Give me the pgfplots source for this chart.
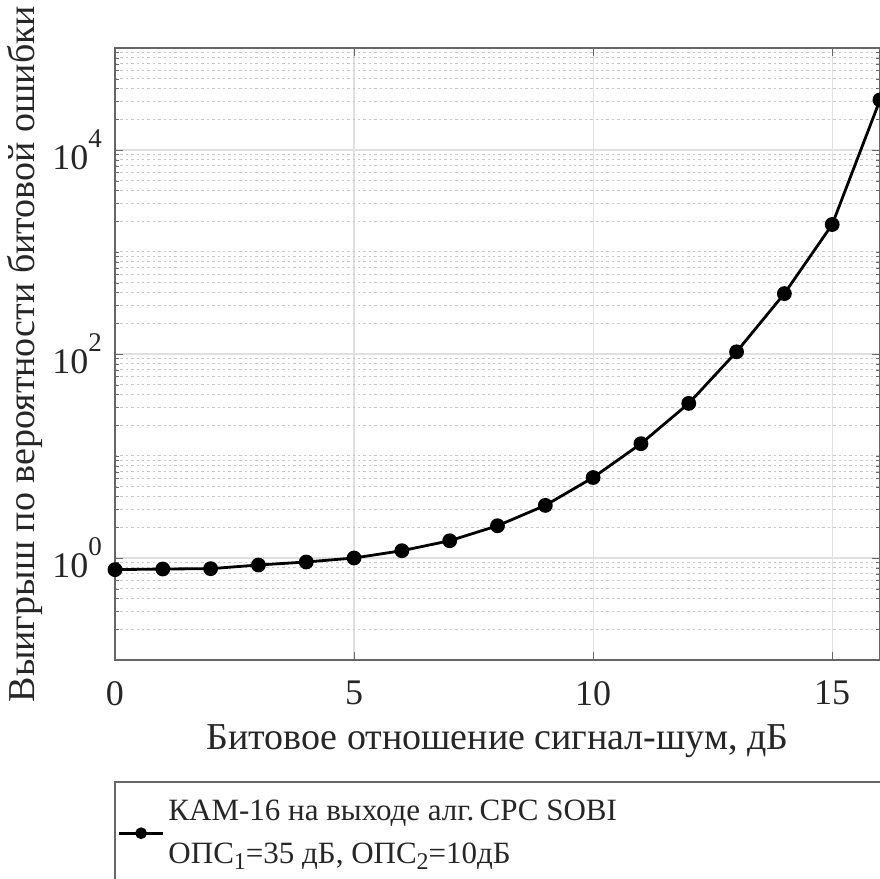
\documentclass[border=0pt]{standalone}
\usepackage{pgfplots}
\pgfplotsset{compat=1.18}
\usepackage{fontspec}
\setmainfont{Liberation Serif}
\newcommand{\tenpow}[1]{10\raisebox{0.62em}{\fontsize{13.5}{14}\selectfont #1}}
\newcommand{\sub}[1]{\raisebox{-0.45ex}{\fontsize{12}{12}\selectfont #1}}
\begin{document}
\begin{tikzpicture}
\path[use as bounding box, clip] (0pt,0pt) rectangle (440pt,439.5pt);
\begin{axis}[
  at={(57.5pt,109.5pt)}, anchor=south west,
  scale only axis, width=382.5pt, height=306pt,
  xmin=0, xmax=16, ymin=0.1, ymax=1e5,
  ymode=log,
  xtick={0,5,10,15},
  ytick={1,100,10000},
  minor ytick={0.2,0.3,0.4,0.5,0.6,0.7,0.8,0.9,2,3,4,5,6,7,8,9,10,20,30,40,50,60,70,80,90,200,300,400,500,600,700,800,900,1000,2000,3000,4000,5000,6000,7000,8000,9000,20000,30000,40000,50000,60000,70000,80000,90000},
  yticklabels={\tenpow{0},\tenpow{2},\tenpow{4}},
  /pgf/number format/assume math mode=true,
  tick label style={font=\fontsize{18}{20}\selectfont, text=black!85},
  xticklabel style={yshift=-7pt},
  yticklabel style={xshift=-3pt},
  label style={font=\fontsize{19}{21}\selectfont, text=black!85},
  xlabel={Битовое отношение сигнал-шум, дБ},
  ylabel={Выигрыш по вероятности битовой ошибки},
  xlabel style={yshift=-3pt},
  ylabel style={yshift=-2pt},
  grid=both,
  major grid style={draw=black!12, line width=0.6pt},
  minor grid style={draw=black!22, dash pattern=on 1.2pt off 1.5pt, line width=0.5pt},
  tick align=inside,
  major tick length=4pt, minor tick length=2pt,
  tick style={black!60},
  axis line style={black!60, line width=0.8pt},
  legend style={at={(0.003,-0.283)}, anchor=west, draw=none, fill=none,
    font=\fontsize{15.5}{18}\selectfont, text=black!85, inner sep=0pt,
    /tikz/every even column/.style={column sep=2.5pt}},
  legend cell align=left,
  legend image code/.code={\draw[mark repeat=2,mark phase=2,#1,mark size=2.2pt] plot coordinates {(0pt,0pt) (11pt,0pt) (22pt,0pt)};},
]
\addplot[black, line width=1.4pt, mark=*, mark size=3pt] coordinates {
(0,0.769) (1,0.78) (2,0.786) (3,0.854) (4,0.914) (5,1.0) (6,1.179) (7,1.476)
(8,2.07) (9,3.28) (10,6.15) (11,13.2) (12,32.8) (13,105) (14,391) (15,1860) (16,31000)
};
\addlegendentry{\shortstack[l]{КАМ-16 на выходе алг.\,СРС SOBI\\[5pt]ОПС\sub{1}=35 дБ, ОПС\sub{2}=10дБ}}
\end{axis}
\draw[black!60, line width=0.8pt] (57.5pt,48.5pt) rectangle (460pt,-20pt);
\end{tikzpicture}
\end{document}
